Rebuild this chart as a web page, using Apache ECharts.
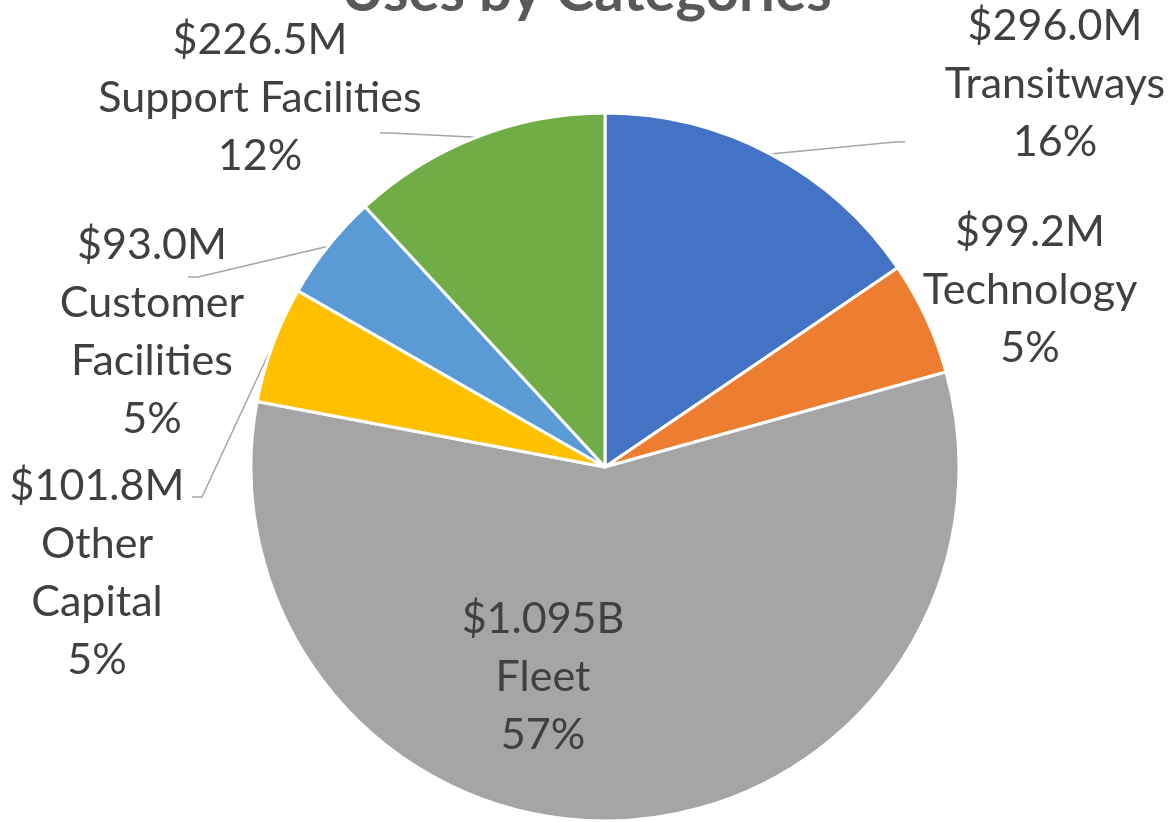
<!DOCTYPE html>
<html>
<head>
<meta charset="utf-8">
<script src="https://cdn.jsdelivr.net/npm/echarts@6/dist/echarts.min.js"></script>
<style>
  html, body { margin: 0; padding: 0; background: #fff; }
  #chart { width: 1173px; height: 822px; }
</style>
</head>
<body>
<div id="chart"></div>
<script>
// data ($ millions), clockwise from 12 o'clock
const categories = ['Transitways', 'Technology', 'Fleet', 'Other\nCapital', 'Customer\nFacilities', 'Support Facilities']
const values = [296.0, 99.2, 1095, 101.8, 93.0, 226.5]
const colors = ['#4472C4', '#ED7D31', '#A5A5A5', '#FFC000', '#5B9BD5', '#70AD47']

// where Excel put each label block (centre of the text)
const labelPos = [[1055, 84], [1030, 290], [543, 677], [97, 573], [152, 332], [260, 98]]
// leader line tail: [x, y, direction of the short horizontal stub]; null = no line
const lineEnd = [[905, 142, -1], null, null, [192, 497, 1], [188, 277, 1], [380, 133, 1]]

const fmtMoney = (v) => v >= 1000 ? '$' + (v / 1000).toFixed(3) + 'B' : '$' + v.toFixed(1) + 'M'

var chartDom = document.getElementById('chart');
var myChart = echarts.init(chartDom);

const option = {
  animation: false,
  title: {
    text: 'Uses by Categories',
    left: 'center',
    top: -42,
    textStyle: {
      color: '#595959',
      fontWeight: 'bold',
      fontSize: 58,
      fontFamily: 'Lato'
    }
  },
  series: [
    {
      type: 'pie',
      center: [605, 467],
      radius: 354,
      startAngle: 90,
      clockwise: true,
      percentPrecision: 0,
      itemStyle: {
        borderColor: '#fff',
        borderWidth: 3
      },
      label: {
        show: true,
        position: 'outside',
        formatter: (p) => fmtMoney(p.value) + '\n' + p.name + '\n' + p.percent + '%',
        color: '#404040',
        fontSize: 43,
        lineHeight: 58,
        fontFamily: 'Lato',
        align: 'center',
        overflow: 'none',
        width: 300
      },
      labelLine: {
        show: true,
        length: 20,
        length2: 10,
        lineStyle: { color: '#A6A6A6', width: 1.5 }
      },
      labelLayout: (params) => {
        const i = params.dataIndex
        const pos = labelPos[i]
        const res = { x: pos[0], y: pos[1], align: 'center', verticalAlign: 'middle' }
        const e = lineEnd[i]
        if (e && params.labelLinePoints) {
          res.labelLinePoints = [params.labelLinePoints[0], [e[0] + e[2] * 10, e[1]], [e[0], e[1]]]
        }
        return res
      },
      data: categories.map((name, i) => ({
        name,
        value: values[i],
        itemStyle: { color: colors[i] },
        labelLine: { show: lineEnd[i] !== null }
      }))
    }
  ]
};
myChart.setOption(option);
</script>
</body>
</html>
